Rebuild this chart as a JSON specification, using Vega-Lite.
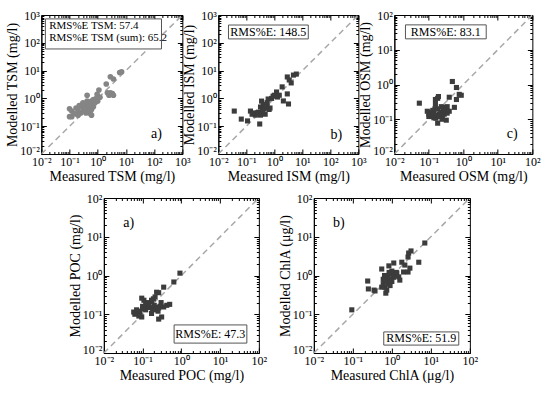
{
"$schema": "https://vega.github.io/schema/vega-lite/v6.json",
"background": "white",
"padding": {"left": 5, "top": 8, "right": 5, "bottom": 5},
"datasets": {
"diag": [{"d": 0.01}, {"d": 1000}],
"tsm": [
{"meas":0.10,"mod":0.42},{"meas":0.10,"mod":0.22},{"meas":0.12,"mod":0.22},{"meas":0.12,"mod":0.35},{"meas":0.15,"mod":0.28},{"meas":0.17,"mod":0.45},{"meas":0.2,"mod":0.35},{"meas":0.22,"mod":0.55},{"meas":0.25,"mod":0.5},{"meas":0.25,"mod":0.3},{"meas":0.28,"mod":0.6},{"meas":0.3,"mod":0.45},{"meas":0.32,"mod":0.35},{"meas":0.35,"mod":0.55},{"meas":0.38,"mod":0.3},{"meas":0.4,"mod":0.5},{"meas":0.42,"mod":0.8},{"meas":0.42,"mod":1.3},{"meas":0.45,"mod":0.6},{"meas":0.45,"mod":0.4},{"meas":0.5,"mod":0.7},{"meas":0.5,"mod":0.3},{"meas":0.55,"mod":0.5},{"meas":0.6,"mod":0.8},{"meas":0.6,"mod":0.4},{"meas":0.65,"mod":0.6},{"meas":0.7,"mod":0.5},{"meas":0.7,"mod":0.9},{"meas":0.8,"mod":0.7},{"meas":0.9,"mod":1.0},{"meas":0.95,"mod":1.4},{"meas":1.0,"mod":0.8},{"meas":1.1,"mod":2.0},{"meas":1.2,"mod":1.1},{"meas":2.0,"mod":3.3},{"meas":2.2,"mod":1.6},{"meas":2.5,"mod":1.3},{"meas":2.8,"mod":1.6},{"meas":3.0,"mod":1.4},{"meas":3.3,"mod":1.5},{"meas":3.6,"mod":1.3},{"meas":2.8,"mod":6.0},{"meas":3.6,"mod":5.0},{"meas":6.0,"mod":8.5},{"meas":7.0,"mod":9.0},{"meas":0.3,"mod":0.7},{"meas":0.55,"mod":0.35},{"meas":0.35,"mod":0.4},{"meas":0.2,"mod":0.25},{"meas":0.6,"mod":0.25}
],
"ism": [
{"meas":0.037,"mod":0.35},{"meas":0.066,"mod":0.18},{"meas":0.11,"mod":0.155},{"meas":0.14,"mod":0.35},{"meas":0.16,"mod":0.27},{"meas":0.2,"mod":0.3},{"meas":0.21,"mod":0.25},{"meas":0.25,"mod":0.3},{"meas":0.27,"mod":0.32},{"meas":0.3,"mod":0.12},{"meas":0.32,"mod":0.49},{"meas":0.32,"mod":0.25},{"meas":0.35,"mod":0.8},{"meas":0.4,"mod":0.55},{"meas":0.42,"mod":0.42},{"meas":0.45,"mod":0.6},{"meas":0.47,"mod":0.27},{"meas":0.5,"mod":0.45},{"meas":0.55,"mod":0.7},{"meas":0.55,"mod":0.5},{"meas":0.6,"mod":0.95},{"meas":0.65,"mod":0.4},{"meas":0.7,"mod":0.45},{"meas":0.8,"mod":1.0},{"meas":1.0,"mod":1.3},{"meas":1.2,"mod":1.7},{"meas":1.3,"mod":1.12},{"meas":1.9,"mod":2.6},{"meas":2.1,"mod":0.81},{"meas":2.9,"mod":1.45},{"meas":3.2,"mod":0.63},{"meas":2.9,"mod":5.9},{"meas":3.4,"mod":4.6},{"meas":4.0,"mod":3.6},{"meas":4.8,"mod":6.9},{"meas":6.1,"mod":7.5},{"meas":0.9,"mod":1.2},{"meas":1.5,"mod":1.3},{"meas":0.38,"mod":0.35}
],
"osm": [
{"meas":0.053,"mod":0.29},{"meas":0.09,"mod":0.17},{"meas":0.1,"mod":0.14},{"meas":0.1,"mod":0.12},{"meas":0.12,"mod":0.12},{"meas":0.12,"mod":0.16},{"meas":0.14,"mod":0.15},{"meas":0.14,"mod":0.11},{"meas":0.155,"mod":0.37},{"meas":0.155,"mod":0.27},{"meas":0.16,"mod":0.107},{"meas":0.17,"mod":0.13},{"meas":0.18,"mod":0.4},{"meas":0.18,"mod":0.2},{"meas":0.18,"mod":0.077},{"meas":0.19,"mod":0.45},{"meas":0.2,"mod":0.14},{"meas":0.2,"mod":0.12},{"meas":0.22,"mod":0.16},{"meas":0.23,"mod":0.23},{"meas":0.24,"mod":0.1},{"meas":0.25,"mod":0.13},{"meas":0.28,"mod":0.22},{"meas":0.28,"mod":0.14},{"meas":0.3,"mod":0.18},{"meas":0.32,"mod":0.094},{"meas":0.34,"mod":0.23},{"meas":0.34,"mod":0.15},{"meas":0.39,"mod":0.17},{"meas":0.39,"mod":0.43},{"meas":0.48,"mod":1.22},{"meas":0.55,"mod":0.22},{"meas":0.63,"mod":0.82},{"meas":0.63,"mod":0.37},{"meas":0.76,"mod":0.52},{"meas":0.87,"mod":0.49},{"meas":0.15,"mod":0.2},{"meas":0.26,"mod":0.19},{"meas":0.13,"mod":0.18}
],
"poc": [
{"meas":0.92,"mod":1.15},{"meas":0.64,"mod":0.68},{"meas":0.35,"mod":0.5},{"meas":0.23,"mod":0.37},{"meas":0.26,"mod":0.36},{"meas":0.21,"mod":0.28},{"meas":0.19,"mod":0.25},{"meas":0.095,"mod":0.26},{"meas":0.108,"mod":0.23},{"meas":0.17,"mod":0.21},{"meas":0.145,"mod":0.17},{"meas":0.114,"mod":0.154},{"meas":0.1,"mod":0.137},{"meas":0.085,"mod":0.12},{"meas":0.071,"mod":0.108},{"meas":0.063,"mod":0.1},{"meas":0.42,"mod":0.17},{"meas":0.5,"mod":0.18},{"meas":0.35,"mod":0.154},{"meas":0.21,"mod":0.13},{"meas":0.26,"mod":0.145},{"meas":0.17,"mod":0.105},{"meas":0.31,"mod":0.085},{"meas":0.26,"mod":0.075},{"meas":0.059,"mod":0.114},{"meas":0.085,"mod":0.095},{"meas":0.095,"mod":0.085},{"meas":0.12,"mod":0.13},{"meas":0.15,"mod":0.15},{"meas":0.18,"mod":0.14},{"meas":0.2,"mod":0.17},{"meas":0.22,"mod":0.15},{"meas":0.25,"mod":0.12},{"meas":0.12,"mod":0.18},{"meas":0.1,"mod":0.16},{"meas":0.07,"mod":0.13},{"meas":0.08,"mod":0.09},{"meas":0.14,"mod":0.2},{"meas":0.17,"mod":0.23},{"meas":0.3,"mod":0.2},{"meas":0.28,"mod":0.16}
],
"chla": [
{"meas":0.094,"mod":0.13},{"meas":0.24,"mod":0.72},{"meas":0.25,"mod":0.45},{"meas":0.35,"mod":0.42},{"meas":0.37,"mod":0.4},{"meas":0.55,"mod":1.47},{"meas":0.55,"mod":0.5},{"meas":0.6,"mod":0.8},{"meas":0.6,"mod":0.6},{"meas":0.65,"mod":1.0},{"meas":0.66,"mod":0.5},{"meas":0.7,"mod":0.9},{"meas":0.7,"mod":0.35},{"meas":0.74,"mod":0.42},{"meas":0.75,"mod":0.7},{"meas":0.8,"mod":1.0},{"meas":0.8,"mod":0.6},{"meas":0.84,"mod":1.77},{"meas":0.9,"mod":0.8},{"meas":0.95,"mod":1.1},{"meas":1.0,"mod":0.7},{"meas":1.0,"mod":1.3},{"meas":1.12,"mod":2.1},{"meas":1.2,"mod":1.0},{"meas":1.3,"mod":1.2},{"meas":1.34,"mod":1.15},{"meas":1.5,"mod":0.92},{"meas":1.6,"mod":0.76},{"meas":1.8,"mod":2.2},{"meas":2.0,"mod":1.23},{"meas":2.15,"mod":1.86},{"meas":2.6,"mod":1.23},{"meas":2.6,"mod":3.0},{"meas":2.7,"mod":3.8},{"meas":2.9,"mod":1.55},{"meas":3.1,"mod":4.3},{"meas":4.9,"mod":2.2},{"meas":7.0,"mod":6.9},{"meas":0.65,"mod":0.75},{"meas":0.9,"mod":0.55},{"meas":1.1,"mod":0.9},{"meas":0.85,"mod":1.2}
],
"boxes": [
{"p":"tsm","x1":0.0139,"x2":182,"y1":60,"y2":724},
{"p":"ism","x1":0.023,"x2":16.3,"y1":138,"y2":436},
{"p":"osm","x1":0.021,"x2":4.6,"y1":20.6,"y2":52},
{"p":"poc","x1":0.65,"x2":49,"y1":0.018,"y2":0.053},
{"p":"chla","x1":0.62,"x2":52,"y1":0.016,"y2":0.035}
],
"boxtext": [
{"p":"tsm","x":0.019,"y":400,"t":"RMS%E TSM: 57.4"},
{"p":"tsm","x":0.019,"y":148,"t":"RMS%E TSM (sum): 65.2"},
{"p":"ism","x":0.61,"y":245,"t":"RMS%E: 148.5"},
{"p":"osm","x":0.31,"y":33,"t":"RMS%E: 83.1"},
{"p":"poc","x":5.6,"y":0.031,"t":"RMS%E: 47.3"},
{"p":"chla","x":5.7,"y":0.024,"t":"RMS%E: 51.9"}
],
"tags": [
{"p":"tsm","x":120,"y":0.052,"t":"a)"},
{"p":"ism","x":163,"y":0.048,"t":"b)"},
{"p":"osm","x":26,"y":0.037,"t":"c)"},
{"p":"poc","x":0.044,"y":22,"t":"a)"},
{"p":"chla","x":0.044,"y":22,"t":"b)"}
]
},
"vconcat": [
{"hconcat": [
{"width": 141, "height": 139,
 "resolve": {"axis": {"x": "independent", "y": "independent"}},
 "layer": [
  {"data": {"name": "diag"}, "mark": {"type": "line", "strokeDash": [6, 4], "color": "#a8a8a8", "strokeWidth": 1.5, "clip": true},
   "encoding": {
    "x": {"field": "d", "type": "quantitative", "scale": {"type": "log", "domain": [0.01, 1000], "nice": false},
      "axis": {"orient": "bottom", "title": "Measured TSM (mg/l)", "values": [0.01,0.02,0.03,0.04,0.05,0.06,0.07,0.08,0.09,0.1,0.2,0.3,0.4,0.5,0.6,0.7,0.8,0.9,1,2,3,4,5,6,7,8,9,10,20,30,40,50,60,70,80,90,100,200,300,400,500,600,700,800,900,1000],
       "labelExpr": "datum.value==0.01?'10⁻²':datum.value==0.1?'10⁻¹':datum.value==1?'10⁰':datum.value==10?'10¹':datum.value==100?'10²':datum.value==1000?'10³':''",
       "tickSize": {"condition": {"test": "datum.value==0.01||datum.value==0.1||datum.value==1||datum.value==10||datum.value==100||datum.value==1000", "value": -5}, "value": -2.5}}},
    "y": {"field": "d", "type": "quantitative", "scale": {"type": "log", "domain": [0.01, 1000], "nice": false},
      "axis": {"orient": "left", "title": "Modelled TSM (mg/l)", "values": [0.01,0.02,0.03,0.04,0.05,0.06,0.07,0.08,0.09,0.1,0.2,0.3,0.4,0.5,0.6,0.7,0.8,0.9,1,2,3,4,5,6,7,8,9,10,20,30,40,50,60,70,80,90,100,200,300,400,500,600,700,800,900,1000],
       "labelExpr": "datum.value==0.01?'10⁻²':datum.value==0.1?'10⁻¹':datum.value==1?'10⁰':datum.value==10?'10¹':datum.value==100?'10²':datum.value==1000?'10³':''",
       "labelOffset": {"condition": {"test": "datum.value==0.01", "value": -4}, "value": 0},
       "tickSize": {"condition": {"test": "datum.value==0.01||datum.value==0.1||datum.value==1||datum.value==10||datum.value==100||datum.value==1000", "value": -5}, "value": -2.5}}}
   }},
  {"data": {"name": "tsm"}, "mark": {"type": "point", "shape": "circle", "filled": true, "color": "#858585", "size": 32, "opacity": 1},
   "encoding": {
    "x": {"field": "meas", "type": "quantitative", "axis": {"orient": "top", "labels": false, "title": null, "domain": false, "values": [0.01,0.02,0.03,0.04,0.05,0.06,0.07,0.08,0.09,0.1,0.2,0.3,0.4,0.5,0.6,0.7,0.8,0.9,1,2,3,4,5,6,7,8,9,10,20,30,40,50,60,70,80,90,100,200,300,400,500,600,700,800,900,1000],
       "tickSize": {"condition": {"test": "datum.value==0.01||datum.value==0.1||datum.value==1||datum.value==10||datum.value==100||datum.value==1000", "value": -5}, "value": -2.5}}},
    "y": {"field": "mod", "type": "quantitative", "axis": {"orient": "right", "labels": false, "title": null, "domain": false, "values": [0.01,0.02,0.03,0.04,0.05,0.06,0.07,0.08,0.09,0.1,0.2,0.3,0.4,0.5,0.6,0.7,0.8,0.9,1,2,3,4,5,6,7,8,9,10,20,30,40,50,60,70,80,90,100,200,300,400,500,600,700,800,900,1000],
       "tickSize": {"condition": {"test": "datum.value==0.01||datum.value==0.1||datum.value==1||datum.value==10||datum.value==100||datum.value==1000", "value": -5}, "value": -2.5}}}
   }},
  {"data": {"name": "boxes"}, "transform": [{"filter": "datum.p=='tsm'"}], "mark": {"type": "rect", "fill": "white", "stroke": "#555555", "strokeWidth": 1},
   "encoding": {"x": {"field": "x1", "type": "quantitative", "axis": null}, "x2": {"field": "x2"}, "y": {"field": "y1", "type": "quantitative", "axis": null}, "y2": {"field": "y2"}}},
  {"data": {"name": "boxtext"}, "transform": [{"filter": "datum.p=='tsm'"}], "mark": {"type": "text", "align": "left", "baseline": "middle", "fontSize": 11, "font": "Liberation Serif", "color": "black"},
   "encoding": {"x": {"field": "x", "type": "quantitative", "axis": null}, "y": {"field": "y", "type": "quantitative", "axis": null}, "text": {"field": "t"}}},
  {"data": {"name": "tags"}, "transform": [{"filter": "datum.p=='tsm'"}], "mark": {"type": "text", "align": "center", "baseline": "middle", "fontSize": 14, "font": "Liberation Serif", "color": "black"},
   "encoding": {"x": {"field": "x", "type": "quantitative", "axis": null}, "y": {"field": "y", "type": "quantitative", "axis": null}, "text": {"field": "t"}}}
 ]},
{"width": 140, "height": 139,
 "resolve": {"axis": {"x": "independent", "y": "independent"}},
 "layer": [
  {"data": {"name": "diag"}, "mark": {"type": "line", "strokeDash": [6, 4], "color": "#a8a8a8", "strokeWidth": 1.5, "clip": true},
   "encoding": {
    "x": {"field": "d", "type": "quantitative", "scale": {"type": "log", "domain": [0.01, 1000], "nice": false},
      "axis": {"orient": "bottom", "title": "Measured ISM (mg/l)", "values": [0.01,0.02,0.03,0.04,0.05,0.06,0.07,0.08,0.09,0.1,0.2,0.3,0.4,0.5,0.6,0.7,0.8,0.9,1,2,3,4,5,6,7,8,9,10,20,30,40,50,60,70,80,90,100,200,300,400,500,600,700,800,900,1000],
       "labelExpr": "datum.value==0.01?'10⁻²':datum.value==0.1?'10⁻¹':datum.value==1?'10⁰':datum.value==10?'10¹':datum.value==100?'10²':datum.value==1000?'10³':''",
       "tickSize": {"condition": {"test": "datum.value==0.01||datum.value==0.1||datum.value==1||datum.value==10||datum.value==100||datum.value==1000", "value": -5}, "value": -2.5}}},
    "y": {"field": "d", "type": "quantitative", "scale": {"type": "log", "domain": [0.01, 1000], "nice": false},
      "axis": {"orient": "left", "title": "Modelled ISM (mg/l)", "values": [0.01,0.02,0.03,0.04,0.05,0.06,0.07,0.08,0.09,0.1,0.2,0.3,0.4,0.5,0.6,0.7,0.8,0.9,1,2,3,4,5,6,7,8,9,10,20,30,40,50,60,70,80,90,100,200,300,400,500,600,700,800,900,1000],
       "labelExpr": "datum.value==0.01?'10⁻²':datum.value==0.1?'10⁻¹':datum.value==1?'10⁰':datum.value==10?'10¹':datum.value==100?'10²':datum.value==1000?'10³':''",
       "labelOffset": {"condition": {"test": "datum.value==0.01", "value": -4}, "value": 0},
       "tickSize": {"condition": {"test": "datum.value==0.01||datum.value==0.1||datum.value==1||datum.value==10||datum.value==100||datum.value==1000", "value": -5}, "value": -2.5}}}
   }},
  {"data": {"name": "ism"}, "mark": {"type": "point", "shape": "square", "filled": true, "color": "#3c3c3c", "size": 26, "opacity": 1},
   "encoding": {
    "x": {"field": "meas", "type": "quantitative", "axis": {"orient": "top", "labels": false, "title": null, "domain": false, "values": [0.01,0.02,0.03,0.04,0.05,0.06,0.07,0.08,0.09,0.1,0.2,0.3,0.4,0.5,0.6,0.7,0.8,0.9,1,2,3,4,5,6,7,8,9,10,20,30,40,50,60,70,80,90,100,200,300,400,500,600,700,800,900,1000],
       "tickSize": {"condition": {"test": "datum.value==0.01||datum.value==0.1||datum.value==1||datum.value==10||datum.value==100||datum.value==1000", "value": -5}, "value": -2.5}}},
    "y": {"field": "mod", "type": "quantitative", "axis": {"orient": "right", "labels": false, "title": null, "domain": false, "values": [0.01,0.02,0.03,0.04,0.05,0.06,0.07,0.08,0.09,0.1,0.2,0.3,0.4,0.5,0.6,0.7,0.8,0.9,1,2,3,4,5,6,7,8,9,10,20,30,40,50,60,70,80,90,100,200,300,400,500,600,700,800,900,1000],
       "tickSize": {"condition": {"test": "datum.value==0.01||datum.value==0.1||datum.value==1||datum.value==10||datum.value==100||datum.value==1000", "value": -5}, "value": -2.5}}}
   }},
  {"data": {"name": "boxes"}, "transform": [{"filter": "datum.p=='ism'"}], "mark": {"type": "rect", "fill": "white", "stroke": "#555555", "strokeWidth": 1},
   "encoding": {"x": {"field": "x1", "type": "quantitative", "axis": null}, "x2": {"field": "x2"}, "y": {"field": "y1", "type": "quantitative", "axis": null}, "y2": {"field": "y2"}}},
  {"data": {"name": "boxtext"}, "transform": [{"filter": "datum.p=='ism'"}], "mark": {"type": "text", "align": "center", "baseline": "middle", "fontSize": 12, "font": "Liberation Serif", "color": "black"},
   "encoding": {"x": {"field": "x", "type": "quantitative", "axis": null}, "y": {"field": "y", "type": "quantitative", "axis": null}, "text": {"field": "t"}}},
  {"data": {"name": "tags"}, "transform": [{"filter": "datum.p=='ism'"}], "mark": {"type": "text", "align": "center", "baseline": "middle", "fontSize": 14, "font": "Liberation Serif", "color": "black"},
   "encoding": {"x": {"field": "x", "type": "quantitative", "axis": null}, "y": {"field": "y", "type": "quantitative", "axis": null}, "text": {"field": "t"}}}
 ]},
{"width": 138, "height": 139,
 "resolve": {"axis": {"x": "independent", "y": "independent"}},
 "layer": [
  {"data": {"name": "diag"}, "mark": {"type": "line", "strokeDash": [6, 4], "color": "#a8a8a8", "strokeWidth": 1.5, "clip": true},
   "encoding": {
    "x": {"field": "d", "type": "quantitative", "scale": {"type": "log", "domain": [0.01, 100], "nice": false},
      "axis": {"orient": "bottom", "title": "Measured OSM (mg/l)", "values": [0.01,0.02,0.03,0.04,0.05,0.06,0.07,0.08,0.09,0.1,0.2,0.3,0.4,0.5,0.6,0.7,0.8,0.9,1,2,3,4,5,6,7,8,9,10,20,30,40,50,60,70,80,90,100],
       "labelExpr": "datum.value==0.01?'10⁻²':datum.value==0.1?'10⁻¹':datum.value==1?'10⁰':datum.value==10?'10¹':datum.value==100?'10²':datum.value==1000?'10³':''",
       "tickSize": {"condition": {"test": "datum.value==0.01||datum.value==0.1||datum.value==1||datum.value==10||datum.value==100||datum.value==1000", "value": -5}, "value": -2.5}}},
    "y": {"field": "d", "type": "quantitative", "scale": {"type": "log", "domain": [0.01, 100], "nice": false},
      "axis": {"orient": "left", "title": "Modelled OSM (mg/l)", "values": [0.01,0.02,0.03,0.04,0.05,0.06,0.07,0.08,0.09,0.1,0.2,0.3,0.4,0.5,0.6,0.7,0.8,0.9,1,2,3,4,5,6,7,8,9,10,20,30,40,50,60,70,80,90,100],
       "labelExpr": "datum.value==0.01?'10⁻²':datum.value==0.1?'10⁻¹':datum.value==1?'10⁰':datum.value==10?'10¹':datum.value==100?'10²':datum.value==1000?'10³':''",
       "labelOffset": {"condition": {"test": "datum.value==0.01", "value": -4}, "value": 0},
       "tickSize": {"condition": {"test": "datum.value==0.01||datum.value==0.1||datum.value==1||datum.value==10||datum.value==100||datum.value==1000", "value": -5}, "value": -2.5}}}
   }},
  {"data": {"name": "osm"}, "mark": {"type": "point", "shape": "square", "filled": true, "color": "#3c3c3c", "size": 26, "opacity": 1},
   "encoding": {
    "x": {"field": "meas", "type": "quantitative", "axis": {"orient": "top", "labels": false, "title": null, "domain": false, "values": [0.01,0.02,0.03,0.04,0.05,0.06,0.07,0.08,0.09,0.1,0.2,0.3,0.4,0.5,0.6,0.7,0.8,0.9,1,2,3,4,5,6,7,8,9,10,20,30,40,50,60,70,80,90,100],
       "tickSize": {"condition": {"test": "datum.value==0.01||datum.value==0.1||datum.value==1||datum.value==10||datum.value==100||datum.value==1000", "value": -5}, "value": -2.5}}},
    "y": {"field": "mod", "type": "quantitative", "axis": {"orient": "right", "labels": false, "title": null, "domain": false, "values": [0.01,0.02,0.03,0.04,0.05,0.06,0.07,0.08,0.09,0.1,0.2,0.3,0.4,0.5,0.6,0.7,0.8,0.9,1,2,3,4,5,6,7,8,9,10,20,30,40,50,60,70,80,90,100],
       "tickSize": {"condition": {"test": "datum.value==0.01||datum.value==0.1||datum.value==1||datum.value==10||datum.value==100||datum.value==1000", "value": -5}, "value": -2.5}}}
   }},
  {"data": {"name": "boxes"}, "transform": [{"filter": "datum.p=='osm'"}], "mark": {"type": "rect", "fill": "white", "stroke": "#555555", "strokeWidth": 1},
   "encoding": {"x": {"field": "x1", "type": "quantitative", "axis": null}, "x2": {"field": "x2"}, "y": {"field": "y1", "type": "quantitative", "axis": null}, "y2": {"field": "y2"}}},
  {"data": {"name": "boxtext"}, "transform": [{"filter": "datum.p=='osm'"}], "mark": {"type": "text", "align": "center", "baseline": "middle", "fontSize": 12, "font": "Liberation Serif", "color": "black"},
   "encoding": {"x": {"field": "x", "type": "quantitative", "axis": null}, "y": {"field": "y", "type": "quantitative", "axis": null}, "text": {"field": "t"}}},
  {"data": {"name": "tags"}, "transform": [{"filter": "datum.p=='osm'"}], "mark": {"type": "text", "align": "center", "baseline": "middle", "fontSize": 14, "font": "Liberation Serif", "color": "black"},
   "encoding": {"x": {"field": "x", "type": "quantitative", "axis": null}, "y": {"field": "y", "type": "quantitative", "axis": null}, "text": {"field": "t"}}}
 ]}
], "spacing": 36, "bounds": "flush"},
{"hconcat": [
{"width": 155, "height": 155,
 "resolve": {"axis": {"x": "independent", "y": "independent"}},
 "layer": [
  {"data": {"name": "diag"}, "mark": {"type": "line", "strokeDash": [6, 4], "color": "#a8a8a8", "strokeWidth": 1.5, "clip": true},
   "encoding": {
    "x": {"field": "d", "type": "quantitative", "scale": {"type": "log", "domain": [0.01, 100], "nice": false},
      "axis": {"orient": "bottom", "title": "Measured POC (mg/l)", "values": [0.01,0.02,0.03,0.04,0.05,0.06,0.07,0.08,0.09,0.1,0.2,0.3,0.4,0.5,0.6,0.7,0.8,0.9,1,2,3,4,5,6,7,8,9,10,20,30,40,50,60,70,80,90,100],
       "labelExpr": "datum.value==0.01?'10⁻²':datum.value==0.1?'10⁻¹':datum.value==1?'10⁰':datum.value==10?'10¹':datum.value==100?'10²':datum.value==1000?'10³':''",
       "tickSize": {"condition": {"test": "datum.value==0.01||datum.value==0.1||datum.value==1||datum.value==10||datum.value==100||datum.value==1000", "value": -5}, "value": -2.5}}},
    "y": {"field": "d", "type": "quantitative", "scale": {"type": "log", "domain": [0.01, 100], "nice": false},
      "axis": {"orient": "left", "title": "Modelled POC (mg/l)", "values": [0.01,0.02,0.03,0.04,0.05,0.06,0.07,0.08,0.09,0.1,0.2,0.3,0.4,0.5,0.6,0.7,0.8,0.9,1,2,3,4,5,6,7,8,9,10,20,30,40,50,60,70,80,90,100],
       "labelExpr": "datum.value==0.01?'10⁻²':datum.value==0.1?'10⁻¹':datum.value==1?'10⁰':datum.value==10?'10¹':datum.value==100?'10²':datum.value==1000?'10³':''",
       "labelOffset": {"condition": {"test": "datum.value==0.01", "value": -4}, "value": 0},
       "tickSize": {"condition": {"test": "datum.value==0.01||datum.value==0.1||datum.value==1||datum.value==10||datum.value==100||datum.value==1000", "value": -5}, "value": -2.5}}}
   }},
  {"data": {"name": "poc"}, "mark": {"type": "point", "shape": "square", "filled": true, "color": "#3c3c3c", "size": 26, "opacity": 1},
   "encoding": {
    "x": {"field": "meas", "type": "quantitative", "axis": {"orient": "top", "labels": false, "title": null, "domain": false, "values": [0.01,0.02,0.03,0.04,0.05,0.06,0.07,0.08,0.09,0.1,0.2,0.3,0.4,0.5,0.6,0.7,0.8,0.9,1,2,3,4,5,6,7,8,9,10,20,30,40,50,60,70,80,90,100],
       "tickSize": {"condition": {"test": "datum.value==0.01||datum.value==0.1||datum.value==1||datum.value==10||datum.value==100||datum.value==1000", "value": -5}, "value": -2.5}}},
    "y": {"field": "mod", "type": "quantitative", "axis": {"orient": "right", "labels": false, "title": null, "domain": false, "values": [0.01,0.02,0.03,0.04,0.05,0.06,0.07,0.08,0.09,0.1,0.2,0.3,0.4,0.5,0.6,0.7,0.8,0.9,1,2,3,4,5,6,7,8,9,10,20,30,40,50,60,70,80,90,100],
       "tickSize": {"condition": {"test": "datum.value==0.01||datum.value==0.1||datum.value==1||datum.value==10||datum.value==100||datum.value==1000", "value": -5}, "value": -2.5}}}
   }},
  {"data": {"name": "boxes"}, "transform": [{"filter": "datum.p=='poc'"}], "mark": {"type": "rect", "fill": "white", "stroke": "#555555", "strokeWidth": 1},
   "encoding": {"x": {"field": "x1", "type": "quantitative", "axis": null}, "x2": {"field": "x2"}, "y": {"field": "y1", "type": "quantitative", "axis": null}, "y2": {"field": "y2"}}},
  {"data": {"name": "boxtext"}, "transform": [{"filter": "datum.p=='poc'"}], "mark": {"type": "text", "align": "center", "baseline": "middle", "fontSize": 12, "font": "Liberation Serif", "color": "black"},
   "encoding": {"x": {"field": "x", "type": "quantitative", "axis": null}, "y": {"field": "y", "type": "quantitative", "axis": null}, "text": {"field": "t"}}},
  {"data": {"name": "tags"}, "transform": [{"filter": "datum.p=='poc'"}], "mark": {"type": "text", "align": "center", "baseline": "middle", "fontSize": 14, "font": "Liberation Serif", "color": "black"},
   "encoding": {"x": {"field": "x", "type": "quantitative", "axis": null}, "y": {"field": "y", "type": "quantitative", "axis": null}, "text": {"field": "t"}}}
 ]},
{"width": 156, "height": 155,
 "resolve": {"axis": {"x": "independent", "y": "independent"}},
 "layer": [
  {"data": {"name": "diag"}, "mark": {"type": "line", "strokeDash": [6, 4], "color": "#a8a8a8", "strokeWidth": 1.5, "clip": true},
   "encoding": {
    "x": {"field": "d", "type": "quantitative", "scale": {"type": "log", "domain": [0.01, 100], "nice": false},
      "axis": {"orient": "bottom", "title": "Measured ChlA (μg/l)", "values": [0.01,0.02,0.03,0.04,0.05,0.06,0.07,0.08,0.09,0.1,0.2,0.3,0.4,0.5,0.6,0.7,0.8,0.9,1,2,3,4,5,6,7,8,9,10,20,30,40,50,60,70,80,90,100],
       "labelExpr": "datum.value==0.01?'10⁻²':datum.value==0.1?'10⁻¹':datum.value==1?'10⁰':datum.value==10?'10¹':datum.value==100?'10²':datum.value==1000?'10³':''",
       "tickSize": {"condition": {"test": "datum.value==0.01||datum.value==0.1||datum.value==1||datum.value==10||datum.value==100||datum.value==1000", "value": -5}, "value": -2.5}}},
    "y": {"field": "d", "type": "quantitative", "scale": {"type": "log", "domain": [0.01, 100], "nice": false},
      "axis": {"orient": "left", "title": "Modelled ChlA (μg/l)", "values": [0.01,0.02,0.03,0.04,0.05,0.06,0.07,0.08,0.09,0.1,0.2,0.3,0.4,0.5,0.6,0.7,0.8,0.9,1,2,3,4,5,6,7,8,9,10,20,30,40,50,60,70,80,90,100],
       "labelExpr": "datum.value==0.01?'10⁻²':datum.value==0.1?'10⁻¹':datum.value==1?'10⁰':datum.value==10?'10¹':datum.value==100?'10²':datum.value==1000?'10³':''",
       "labelOffset": {"condition": {"test": "datum.value==0.01", "value": -4}, "value": 0},
       "tickSize": {"condition": {"test": "datum.value==0.01||datum.value==0.1||datum.value==1||datum.value==10||datum.value==100||datum.value==1000", "value": -5}, "value": -2.5}}}
   }},
  {"data": {"name": "chla"}, "mark": {"type": "point", "shape": "square", "filled": true, "color": "#3c3c3c", "size": 26, "opacity": 1},
   "encoding": {
    "x": {"field": "meas", "type": "quantitative", "axis": {"orient": "top", "labels": false, "title": null, "domain": false, "values": [0.01,0.02,0.03,0.04,0.05,0.06,0.07,0.08,0.09,0.1,0.2,0.3,0.4,0.5,0.6,0.7,0.8,0.9,1,2,3,4,5,6,7,8,9,10,20,30,40,50,60,70,80,90,100],
       "tickSize": {"condition": {"test": "datum.value==0.01||datum.value==0.1||datum.value==1||datum.value==10||datum.value==100||datum.value==1000", "value": -5}, "value": -2.5}}},
    "y": {"field": "mod", "type": "quantitative", "axis": {"orient": "right", "labels": false, "title": null, "domain": false, "values": [0.01,0.02,0.03,0.04,0.05,0.06,0.07,0.08,0.09,0.1,0.2,0.3,0.4,0.5,0.6,0.7,0.8,0.9,1,2,3,4,5,6,7,8,9,10,20,30,40,50,60,70,80,90,100],
       "tickSize": {"condition": {"test": "datum.value==0.01||datum.value==0.1||datum.value==1||datum.value==10||datum.value==100||datum.value==1000", "value": -5}, "value": -2.5}}}
   }},
  {"data": {"name": "boxes"}, "transform": [{"filter": "datum.p=='chla'"}], "mark": {"type": "rect", "fill": "white", "stroke": "#555555", "strokeWidth": 1},
   "encoding": {"x": {"field": "x1", "type": "quantitative", "axis": null}, "x2": {"field": "x2"}, "y": {"field": "y1", "type": "quantitative", "axis": null}, "y2": {"field": "y2"}}},
  {"data": {"name": "boxtext"}, "transform": [{"filter": "datum.p=='chla'"}], "mark": {"type": "text", "align": "center", "baseline": "middle", "fontSize": 12, "font": "Liberation Serif", "color": "black"},
   "encoding": {"x": {"field": "x", "type": "quantitative", "axis": null}, "y": {"field": "y", "type": "quantitative", "axis": null}, "text": {"field": "t"}}},
  {"data": {"name": "tags"}, "transform": [{"filter": "datum.p=='chla'"}], "mark": {"type": "text", "align": "center", "baseline": "middle", "fontSize": 14, "font": "Liberation Serif", "color": "black"},
   "encoding": {"x": {"field": "x", "type": "quantitative", "axis": null}, "y": {"field": "y", "type": "quantitative", "axis": null}, "text": {"field": "t"}}}
 ]}
], "spacing": 55, "bounds": "flush"}
],
"spacing": 7,
"center": true,
"config": {
 "view": {"stroke": "black", "strokeWidth": 1},
 "axis": {"grid": false, "domainColor": "black", "tickColor": "black", "tickWidth": 1, "labelFont": "Liberation Serif", "labelFontSize": 12, "labelColor": "black", "titleFont": "Liberation Serif", "titleFontSize": 14, "titleFontWeight": "normal", "titleColor": "black", "labelFlush": false, "labelOverlap": false},
 "axisX": {"labelPadding": 7, "titlePadding": 0},
 "axisY": {"labelPadding": 7, "titlePadding": 0}
}
}
